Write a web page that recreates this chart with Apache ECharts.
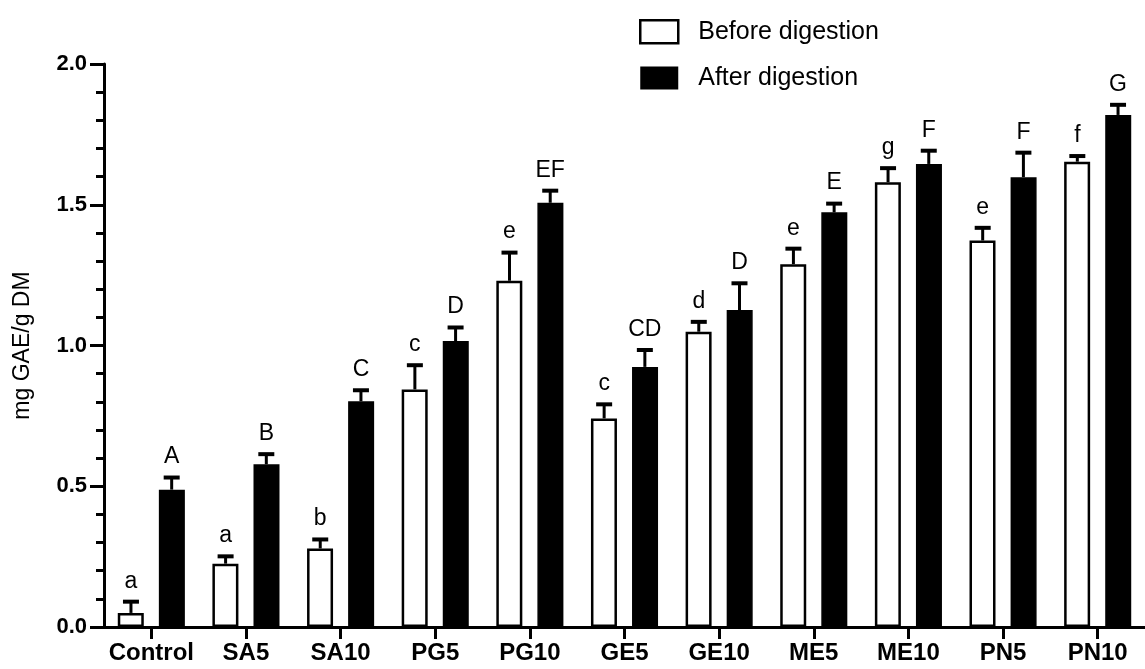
<!DOCTYPE html>
<html>
<head>
<meta charset="utf-8">
<script src="https://cdn.jsdelivr.net/npm/echarts@6/dist/echarts.min.js"></script>
<style>
html,body{margin:0;padding:0;background:#fff;}
#chart{width:1145px;height:669px;}
</style>
</head>
<body>
<div id="chart"></div>
<script>
const categories = ['Control','SA5','SA10','PG5','PG10','GE5','GE10','ME5','ME10','PN5','PN10'];
const before = [0.05, 0.225, 0.279, 0.844, 1.23, 0.741, 1.049, 1.289, 1.58, 1.373, 1.653];
const beforeErr = [0.04, 0.026, 0.032, 0.086, 0.10, 0.05, 0.035, 0.055, 0.05, 0.045, 0.02];
const after = [0.488, 0.578, 0.802, 1.016, 1.507, 0.924, 1.126, 1.473, 1.645, 1.598, 1.819];
const afterErr = [0.043, 0.036, 0.039, 0.048, 0.043, 0.06, 0.095, 0.031, 0.047, 0.087, 0.036];
const beforeLetters = ['a','a','b','c','e','c','d','e','g','e','f'];
const afterLetters = ['A','B','C','D','EF','CD','D','E','F','F','G'];
const yTicks = [0, 0.5, 1.0, 1.5, 2.0];

const FONT = '"Liberation Sans", Arial, Helvetica, sans-serif';
const chart = echarts.init(document.getElementById('chart'), null, {renderer:'canvas'});

function errSeries(name, vals, errs, letters, offset) {
  return {
    type: 'custom',
    name: name + '_err',
    z: 5,
    silent: true,
    data: vals.map((v, i) => [i, v, errs[i]]),
    renderItem: function (params, api) {
      const i = api.value(0);
      const v = api.value(1);
      const e = api.value(2);
      const bw = api.size([1, 0])[0];
      const dx = bw * offset;
      const p0 = api.coord([i, v]);
      const p1 = api.coord([i, v + e]);
      const x = p0[0] + dx;
      const capHalf = 8;
      return {
        type: 'group',
        children: [
          {type:'line', shape:{x1:x, y1:p0[1], x2:x, y2:p1[1]}, style:{stroke:'#000', lineWidth:3}},
          {type:'line', shape:{x1:x-capHalf, y1:p1[1], x2:x+capHalf, y2:p1[1]}, style:{stroke:'#000', lineWidth:4}},
          {type:'text', x:x, y:p1[1]-9, style:{text:letters[i], fill:'#000', font:'23px ' + FONT, align:'center', verticalAlign:'bottom'}}
        ]
      };
    }
  };
}

const option = {
  backgroundColor: '#fff',
  animation: false,
  textStyle: {fontFamily: FONT},
  grid: {left:104, top:64, width:1048, height:563, containLabel:false},
  legend: {
    orient: 'vertical',
    left: 639,
    top: 19,
    padding: 0,
    itemWidth: 38,
    itemHeight: 23,
    itemGap: 21,
    icon: 'rect',
    textStyle: {fontSize:25, color:'#000', fontFamily:FONT, padding:[0,0,0,15]},
    data: [
      {name:'Before digestion', itemStyle:{color:'#fff', borderColor:'#000', borderWidth:2.5}},
      {name:'After digestion', itemStyle:{color:'#000', borderColor:'#000', borderWidth:0}}
    ]
  },
  xAxis: {
    type: 'category',
    data: categories,
    boundaryGap: true,
    axisLine: {show:true, lineStyle:{color:'#000', width:3}},
    axisTick: {show:true, alignWithLabel:true, length:12, lineStyle:{color:'#000', width:3}},
    axisLabel: {color:'#000', fontSize:24, fontWeight:'bold', fontFamily:FONT, margin:14, interval:0},
    splitLine: {show:false}
  },
  yAxis: {
    type: 'value',
    min: 0,
    max: 2,
    interval: 0.5,
    name: 'mg GAE/g DM',
    nameLocation: 'middle',
    nameRotate: 90,
    nameGap: 70,
    nameTextStyle: {fontSize:23, color:'#000', fontFamily:FONT},
    axisLine: {show:true, lineStyle:{color:'#000', width:3}},
    axisTick: {show:true, length:14, lineStyle:{color:'#000', width:3}},
    minorTick: {show:true, splitNumber:5, length:8, lineStyle:{color:'#000', width:3}},
    axisLabel: {color:'#000', fontSize:22, fontWeight:'bold', fontFamily:FONT, margin:17,
      formatter: v => yTicks.indexOf(v) >= 0 ? v.toFixed(1) : ''},
    splitLine: {show:false},
    minorSplitLine: {show:false}
  },
  series: [
    {
      name: 'Before digestion',
      type: 'bar',
      data: before,
      barWidth: 26,
      itemStyle: {color:'#fff', borderColor:'#000', borderWidth:2.5},
      z: 3
    },
    {
      name: 'After digestion',
      type: 'bar',
      data: after,
      barWidth: 26,
      barGap: '58%',
      itemStyle: {color:'#000', borderColor:'#000', borderWidth:1.5},
      z: 3
    },
    errSeries('Before digestion', before, beforeErr, beforeLetters, -20.5/95.3),
    errSeries('After digestion', after, afterErr, afterLetters, 20.5/95.3)
  ]
};
chart.setOption(option);
</script>
</body>
</html>
